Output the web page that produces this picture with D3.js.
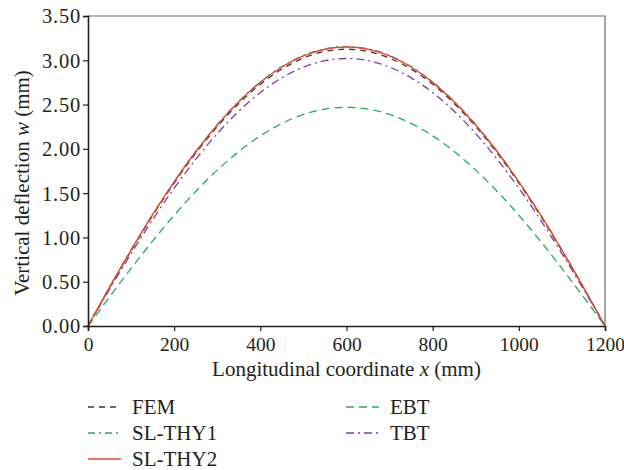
<!DOCTYPE html>
<html>
<head>
<meta charset="utf-8">
<script src="https://cdn.jsdelivr.net/npm/d3@7/dist/d3.min.js"></script>
<style>
  body { margin: 0; background: #fff; }
</style>
</head>
<body>
<div id="chart"></div>
<script>
// longitudinal coordinate x (mm)
const xs = [0, 50, 100, 150, 200, 250, 300, 350, 400, 450, 500, 550, 600,
  650, 700, 750, 800, 850, 900, 950, 1000, 1050, 1100, 1150, 1200];

// vertical deflection w (mm)
const fem = [0, 0.433, 0.850, 1.246, 1.614, 1.951, 2.251, 2.512, 2.729, 2.901, 3.025, 3.100, 3.125,
  3.100, 3.025, 2.901, 2.729, 2.512, 2.251, 1.951, 1.614, 1.246, 0.850, 0.433, 0];
const slThy1 = [0, 0.438, 0.859, 1.259, 1.631, 1.971, 2.274, 2.536, 2.756, 2.929, 3.054, 3.130, 3.155,
  3.130, 3.054, 2.929, 2.756, 2.536, 2.274, 1.971, 1.631, 1.259, 0.859, 0.438, 0];
const slThy2 = [0, 0.437, 0.858, 1.257, 1.628, 1.967, 2.270, 2.532, 2.751, 2.924, 3.049, 3.125, 3.150,
  3.125, 3.049, 2.924, 2.751, 2.532, 2.270, 1.967, 1.628, 1.257, 0.858, 0.437, 0];
const ebt = [0, 0.328, 0.650, 0.959, 1.250, 1.519, 1.760, 1.970, 2.147, 2.287, 2.388, 2.449, 2.470,
  2.449, 2.388, 2.287, 2.147, 1.970, 1.760, 1.519, 1.250, 0.959, 0.650, 0.328, 0];
const tbt = [0, 0.416, 0.818, 1.200, 1.556, 1.881, 2.172, 2.425, 2.636, 2.802, 2.923, 2.996, 3.020,
  2.996, 2.923, 2.802, 2.636, 2.425, 2.172, 1.881, 1.556, 1.200, 0.818, 0.416, 0];

const xTicks = [0, 200, 400, 600, 800, 1000, 1200];
const yTicks = [0, 0.5, 1, 1.5, 2, 2.5, 3, 3.5];

const series = [
  { name: "FEM", values: fem, color: "#3a3a3a", dash: "6,5", width: 1.3 },
  { name: "EBT", values: ebt, color: "#1fae5b", dash: "8,5", width: 1.3 },
  { name: "SL-THY1", values: slThy1, color: "#2aa65c", dash: "7,4,2,4", width: 1.2 },
  { name: "TBT", values: tbt, color: "#7b3fa6", dash: "8,4,2,4", width: 1.3 },
  { name: "SL-THY2", values: slThy2, color: "#e8472f", dash: null, width: 1.4 }
];

const W = 624, H = 470;
const m = { left: 88, right: 605, top: 16, bottom: 326 };
const FONT = "Liberation Serif";
const INK = "#231f20";

const svg = d3.select("#chart").append("svg")
  .attr("width", W).attr("height", H)
  .attr("font-family", FONT);

const x = d3.scaleLinear().domain([0, 1200]).range([m.left, m.right]);
const y = d3.scaleLinear().domain([0, 3.5]).range([m.bottom, m.top]);

// frame (top / right)
svg.append("path")
  .attr("d", `M${m.left},${m.top}H${m.right}V${m.bottom}`)
  .attr("fill", "none").attr("stroke", "#6d6d6d").attr("stroke-width", 1.2);

// curves
const line = d3.line()
  .x((d, i) => x(xs[i]))
  .y(d => y(d))
  .curve(d3.curveNatural);

const drawOrder = ["EBT", "TBT", "SL-THY1", "FEM", "SL-THY2"];
drawOrder.forEach(n => {
  const s = series.find(d => d.name === n);
  svg.append("path")
    .attr("d", line(s.values))
    .attr("fill", "none")
    .attr("stroke", s.color)
    .attr("stroke-width", s.width)
    .attr("stroke-dasharray", s.dash);
});

// axes
const xAxis = svg.append("g")
  .attr("transform", `translate(0,${m.bottom})`)
  .call(d3.axisBottom(x).tickValues(xTicks).tickSize(5).tickPadding(6).tickFormat(d3.format("d")));
const yAxis = svg.append("g")
  .attr("transform", `translate(${m.left},0)`)
  .call(d3.axisLeft(y).tickValues(yTicks).tickSize(5).tickPadding(2).tickFormat(d3.format(".2f")));

[xAxis, yAxis].forEach(g => {
  g.attr("font-family", FONT).attr("font-size", 19.5);
  g.select(".domain").attr("stroke", INK).attr("stroke-width", 1.6);
  g.selectAll(".tick line").attr("stroke", INK).attr("stroke-width", 1.2);
  g.selectAll(".tick text")
    .attr("font-family", FONT)
    .attr("font-size", 19.5).attr("fill", INK);
});
yAxis.selectAll(".tick text")
  .attr("dy", "0.34em")
  .attr("font-size", 20.5)
  .attr("letter-spacing", 0.8);

// axis titles
const xt = svg.append("text")
  .attr("x", (m.left + m.right) / 2).attr("y", 376)
  .attr("text-anchor", "middle")
  .attr("font-family", FONT).attr("font-size", 21).attr("fill", INK);
xt.append("tspan").text("Longitudinal coordinate ");
xt.append("tspan").attr("font-style", "italic").text("x");
xt.append("tspan").text(" (mm)");

const yt = svg.append("text")
  .attr("transform", `translate(29,${(m.top + m.bottom) / 2 + 12}) rotate(-90)`)
  .attr("text-anchor", "middle")
  .attr("font-family", FONT).attr("font-size", 21).attr("fill", INK);
yt.append("tspan").text("Vertical deflection ");
yt.append("tspan").attr("font-style", "italic").text("w");
yt.append("tspan").text(" (mm)");

// legend
const legendItems = [
  { name: "FEM", col: 0, row: 0 },
  { name: "SL-THY1", col: 0, row: 1 },
  { name: "SL-THY2", col: 0, row: 2 },
  { name: "EBT", col: 1, row: 0 },
  { name: "TBT", col: 1, row: 1 }
];
const colX = [88, 346];
legendItems.forEach(it => {
  const s = series.find(d => d.name === it.name);
  const ly = 407 + it.row * 26;
  const lx = colX[it.col];
  svg.append("line")
    .attr("x1", lx).attr("x2", lx + 33)
    .attr("y1", ly).attr("y2", ly)
    .attr("stroke", s.color).attr("stroke-width", s.width + 0.3)
    .attr("stroke-dasharray", s.dash);
  svg.append("text")
    .attr("x", lx + 44).attr("y", ly + 6.5)
    .attr("font-family", FONT).attr("font-size", 21).attr("fill", INK)
    .text(s.name);
});
</script>
</body>
</html>
